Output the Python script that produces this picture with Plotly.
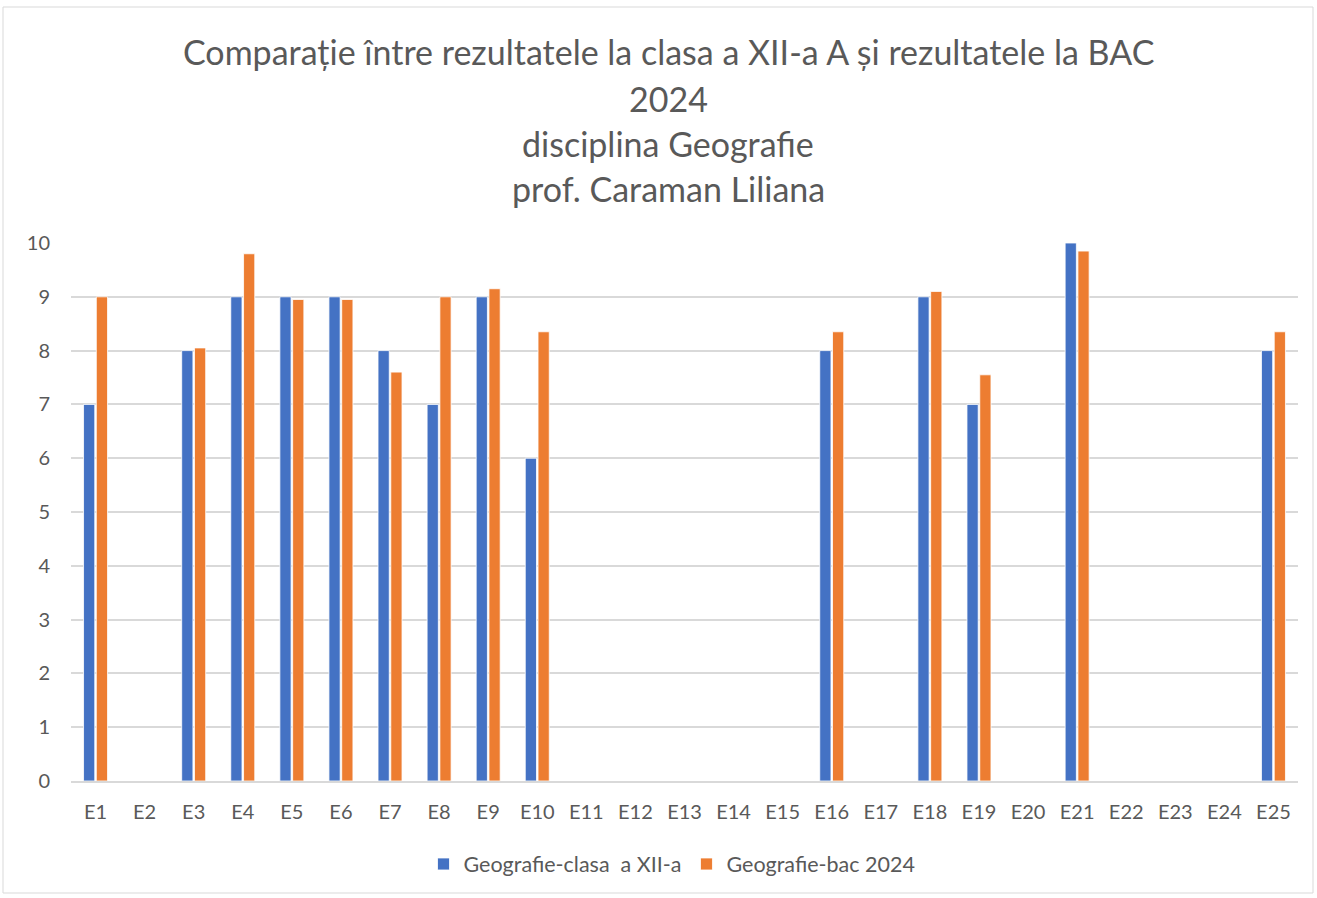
import plotly.graph_objects as go

categories = [f"E{i}" for i in range(1, 26)]
clasa = [7, None, 8, 9, 9, 9, 8, 7, 9, 6, None, None, None, None, None, 8, None, 9, 7, None, 10, None, None, None, 8]
bac = [9, None, 8.05, 9.8, 8.95, 8.95, 7.6, 9, 9.15, 8.35, None, None, None, None, None, 8.35, None, 9.1, 7.55, None, 9.85, None, None, None, 8.35]
title_lines = ["Comparație între rezultatele la clasa a XII-a A și rezultatele la BAC", "2024", "disciplina Geografie", "prof. Caraman Liliana"]
series_names = ["Geografie-clasa\u00a0 a XII-a", "Geografie-bac 2024"]

FONT = "Lato"
GREY = "#595959"

fig = go.Figure()
fig.add_trace(go.Bar(x=categories, y=clasa, name=series_names[0],
                     marker=dict(color="#4472C4", line=dict(color="white", width=0.8))))
fig.add_trace(go.Bar(x=categories, y=bac, name=series_names[1],
                     marker=dict(color="#ED7D31", line=dict(color="white", width=0.8))))

plot_h = 538.0
plot_w = 1227.0
title_y_px = [52, 98, 143, 188]
annotations = []
for line, ypx in zip(title_lines, title_y_px):
    annotations.append(dict(text=line, x=(668 - 71) / plot_w, xref="paper", xanchor="center",
                            y=(781 - ypx) / plot_h, yref="paper", yanchor="middle",
                            showarrow=False, font=dict(family=FONT, size=34, color=GREY)))

fig.update_layout(
    width=1317, height=898,
    margin=dict(l=71, r=19, t=243, b=117),
    paper_bgcolor="white", plot_bgcolor="white",
    barmode="group", bargap=0.48, bargroupgap=0.12,
    font=dict(family=FONT, size=20, color=GREY),
    annotations=annotations,
    showlegend=True,
    legend=dict(orientation="h", x=(672 - 71) / plot_w, xanchor="center", y=(781 - 864) / plot_h, yanchor="middle",
                font=dict(family=FONT, size=21.5, color=GREY), itemwidth=30,
                traceorder="normal"),
    shapes=[dict(type="rect", xref="paper", yref="paper",
                 x0=(3 - 71) / plot_w, x1=(1313 - 71) / plot_w,
                 y0=(781 - 893) / plot_h, y1=(781 - 7) / plot_h,
                 line=dict(color="#d9d9d9", width=1), fillcolor="rgba(0,0,0,0)", layer="below")],
)
fig.update_yaxes(range=[0, 10], dtick=1, showgrid=True, gridcolor="#d9d9d9", gridwidth=1.5,
                 zeroline=False, showline=False, ticks="", ticklen=0,
                 tickfont=dict(family=FONT, size=20, color=GREY), ticklabelstandoff=20)
fig.update_xaxes(showgrid=False, showline=True, linecolor="#d9d9d9", linewidth=1.5,
                 ticks="", tickfont=dict(family=FONT, size=20, color=GREY), ticklabelstandoff=12)

fig.write_html("out.html", config={"displayModeBar": False},
               post_script="document.body.style.margin='0';document.body.style.overflow='hidden';")
